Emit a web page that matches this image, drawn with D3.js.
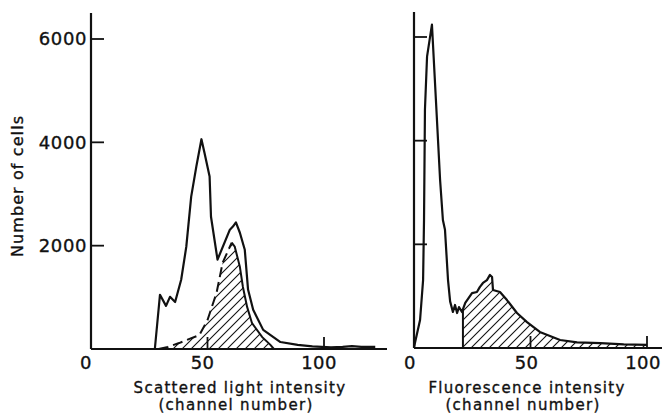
<!DOCTYPE html>
<html>
<head>
<meta charset="utf-8">
<script src="https://cdn.jsdelivr.net/npm/d3@7"></script>
<style>
  body { margin: 0; background: #fff; }
  svg text { font-family: 'DejaVu Sans', sans-serif; fill: #111; stroke: #111; stroke-width: 0.35px; }
</style>
</head>
<body>
<svg width="662" height="414"></svg>
<script>
// left panel: scattered light, total cells
var scatterChannel = [25, 27.4, 29.6, 32.2, 33.9, 36.1, 38.7, 40.9, 43, 45.2, 47.4, 48.7, 50.9, 51.5, 54.3, 59.6, 60.9, 62.2, 63.9, 66, 67.4, 69.6, 73.9, 81.3, 88.7, 95, 103, 108, 112, 116, 122];
var scatterCount   = [0, 0, 1050, 835, 1010, 910, 1340, 1980, 2950, 3530, 4060, 3800, 3340, 2560, 1730, 2310, 2370, 2450, 2250, 1920, 1150, 760, 370, 135, 80, 50, 30, 40, 55, 40, 40];
// left panel: hatched sub-population
var scatterSubChannel = [29, 33, 37.8, 42, 46.5, 50, 53.9, 56.5, 59.6, 60.4, 61.7, 63.9, 65.2, 67, 69.1, 73.5, 77, 78.5];
var scatterSubCount   = [0, 40, 115, 190, 270, 560, 1090, 1670, 1980, 2060, 1980, 1590, 1200, 815, 500, 230, 80, 0];
var scatterSubPeak = 60.4;

// right panel: fluorescence
var fluorChannel = [0, 0.4, 2.6, 3.9, 4.3, 4.7, 5.6, 7.7, 9.4, 11.2, 12.4, 13.3, 14.6, 15.5, 16.7, 17.6, 18.5, 19.3, 20.6, 22, 24.9, 27, 28.3, 29.6, 31.3, 32.6, 33.5, 33.9, 36.9, 39.9, 44.2, 48.5, 54, 62.7, 70, 80, 90, 100];
var fluorCount   = [0, 95, 540, 1310, 2470, 4600, 5620, 6240, 4790, 3240, 2470, 2280, 1310, 900, 695, 830, 675, 790, 695, 870, 1060, 1080, 1180, 1255, 1310, 1410, 1370, 1120, 1080, 925, 675, 500, 310, 155, 110, 95, 70, 60];
var fluorHatchFrom = 21;

var yTicks = [2000, 4000, 6000];
var xTicks = [0, 50, 100];

var svg = d3.select('svg');

// hatch pattern
svg.append('defs')
  .append('pattern')
    .attr('id', 'hatch')
    .attr('patternUnits', 'userSpaceOnUse')
    .attr('width', 9)
    .attr('height', 9)
  .append('path')
    .attr('d', 'M-2,2 l4,-4 M0,9 l9,-9 M7,11 l4,-4')
    .attr('stroke', '#111')
    .attr('stroke-width', 1.1);

function zip(cs, ns) {
  return cs.map((c, i) => ({c: c, n: ns[i]}));
}

function drawPanel(opt) {
  var x = d3.scaleLinear().domain([0, 100]).range(opt.xRange);
  var y = d3.scaleLinear().domain([0, 6000]).range(opt.yRange);
  var g = svg.append('g');

  var line = d3.line().x(d => x(d.c)).y(d => y(d.n));
  var area = d3.area().x(d => x(d.c)).y0(y(0)).y1(d => y(d.n));

  // axes lines
  g.append('line')
    .attr('x1', x(0)).attr('x2', x(0))
    .attr('y1', opt.axisTop).attr('y2', y(0))
    .attr('stroke', '#111').attr('stroke-width', 2.2);
  g.append('line')
    .attr('x1', x(0)).attr('x2', opt.axisRight)
    .attr('y1', y(0)).attr('y2', y(0))
    .attr('stroke', '#111').attr('stroke-width', 2.2);

  // y ticks point inward
  g.selectAll('.ytick')
    .data(yTicks)
    .enter()
    .append('line')
      .attr('x1', x(0)).attr('x2', x(0) + 13)
      .attr('y1', d => y(d)).attr('y2', d => y(d))
      .attr('stroke', '#111').attr('stroke-width', 1.8);

  if (opt.yLabels) {
    g.selectAll('.ylab')
      .data(yTicks)
      .enter()
      .append('text')
        .attr('x', x(0) - 4)
        .attr('y', d => y(d))
        .attr('dy', '0.36em')
        .style('text-anchor', 'end')
        .style('font-size', '18px')
        .style('letter-spacing', '0.6px')
        .text(d => d);
  }

  // x ticks point up
  g.selectAll('.xtick')
    .data(xTicks.filter(d => d > 0))
    .enter()
    .append('line')
      .attr('x1', d => x(d)).attr('x2', d => x(d))
      .attr('y1', y(0)).attr('y2', y(0) - 12)
      .attr('stroke', '#111').attr('stroke-width', 1.8);

  g.selectAll('.xlab')
    .data(xTicks)
    .enter()
    .append('text')
      .attr('x', d => x(d) + opt.labelShift)
      .attr('y', 363)
      .attr('dy', '0.36em')
      .style('text-anchor', 'middle')
      .style('font-size', '18px')
      .style('letter-spacing', '0.4px')
      .text(d => d);

  // axis title, two lines
  g.append('text')
    .attr('x', opt.titleX)
    .attr('y', 393)
    .style('text-anchor', 'middle')
    .style('font-size', '15px')
    .style('letter-spacing', '1.3px')
    .text(opt.title);
  g.append('text')
    .attr('x', opt.titleX - 4)
    .attr('y', 410)
    .style('text-anchor', 'middle')
    .style('font-size', '15px')
    .style('letter-spacing', '1.3px')
    .text('(channel number)');

  return {g: g, x: x, y: y, line: line, area: area};
}

// ---- left panel ----
var L = drawPanel({
  xRange: [91, 324], yRange: [349, 39], axisTop: 13, axisRight: 387,
  yLabels: true, labelShift: -5, titleX: 240,
  title: 'Scattered light intensity'
});

var subData = zip(scatterSubChannel, scatterSubCount);
L.g.append('path')
  .datum(subData)
  .attr('d', L.area)
  .attr('fill', 'url(#hatch)');
L.g.append('path')
  .datum(subData.filter(d => d.c <= scatterSubPeak))
  .attr('d', L.line)
  .attr('fill', 'none')
  .attr('stroke', '#111')
  .attr('stroke-width', 2)
  .attr('stroke-dasharray', '10,5');
L.g.append('path')
  .datum(subData.filter(d => d.c >= scatterSubPeak))
  .attr('d', L.line)
  .attr('fill', 'none')
  .attr('stroke', '#111')
  .attr('stroke-width', 2);

L.g.append('path')
  .datum(zip(scatterChannel, scatterCount))
  .attr('d', L.line)
  .attr('fill', 'none')
  .attr('stroke', '#111')
  .attr('stroke-width', 2.2)
  .attr('stroke-linejoin', 'round');

// ---- right panel ----
var R = drawPanel({
  xRange: [414, 647], yRange: [348, 37], axisTop: 12, axisRight: 662,
  yLabels: false, labelShift: -4, titleX: 527,
  title: 'Fluorescence intensity'
});

var fluorData = zip(fluorChannel, fluorCount);
svg.select('defs').append('clipPath')
    .attr('id', 'hatchClip')
  .append('rect')
    .attr('x', R.x(fluorHatchFrom))
    .attr('y', 0)
    .attr('width', R.x(100) - R.x(fluorHatchFrom))
    .attr('height', R.y(0));

R.g.append('path')
  .datum(fluorData)
  .attr('d', R.area)
  .attr('fill', 'url(#hatch)')
  .attr('clip-path', 'url(#hatchClip)');

// left edge of hatched region
var edgeI = fluorChannel.findIndex(c => c >= fluorHatchFrom);
var edgeT = (fluorHatchFrom - fluorChannel[edgeI - 1]) / (fluorChannel[edgeI] - fluorChannel[edgeI - 1]);
R.g.append('line')
  .attr('x1', R.x(fluorHatchFrom)).attr('x2', R.x(fluorHatchFrom))
  .attr('y1', R.y(0))
  .attr('y2', R.y(d3.interpolateNumber(fluorCount[edgeI - 1], fluorCount[edgeI])(edgeT)))
  .attr('stroke', '#111')
  .attr('stroke-width', 2);

R.g.append('path')
  .datum(fluorData)
  .attr('d', R.line)
  .attr('fill', 'none')
  .attr('stroke', '#111')
  .attr('stroke-width', 2.2)
  .attr('stroke-linejoin', 'round');

// y axis title
svg.append('text')
  .attr('transform', 'translate(23,186) rotate(-90)')
  .style('text-anchor', 'middle')
  .style('font-size', '16px')
  .style('letter-spacing', '1.1px')
  .text('Number of cells');
</script>
</body>
</html>
